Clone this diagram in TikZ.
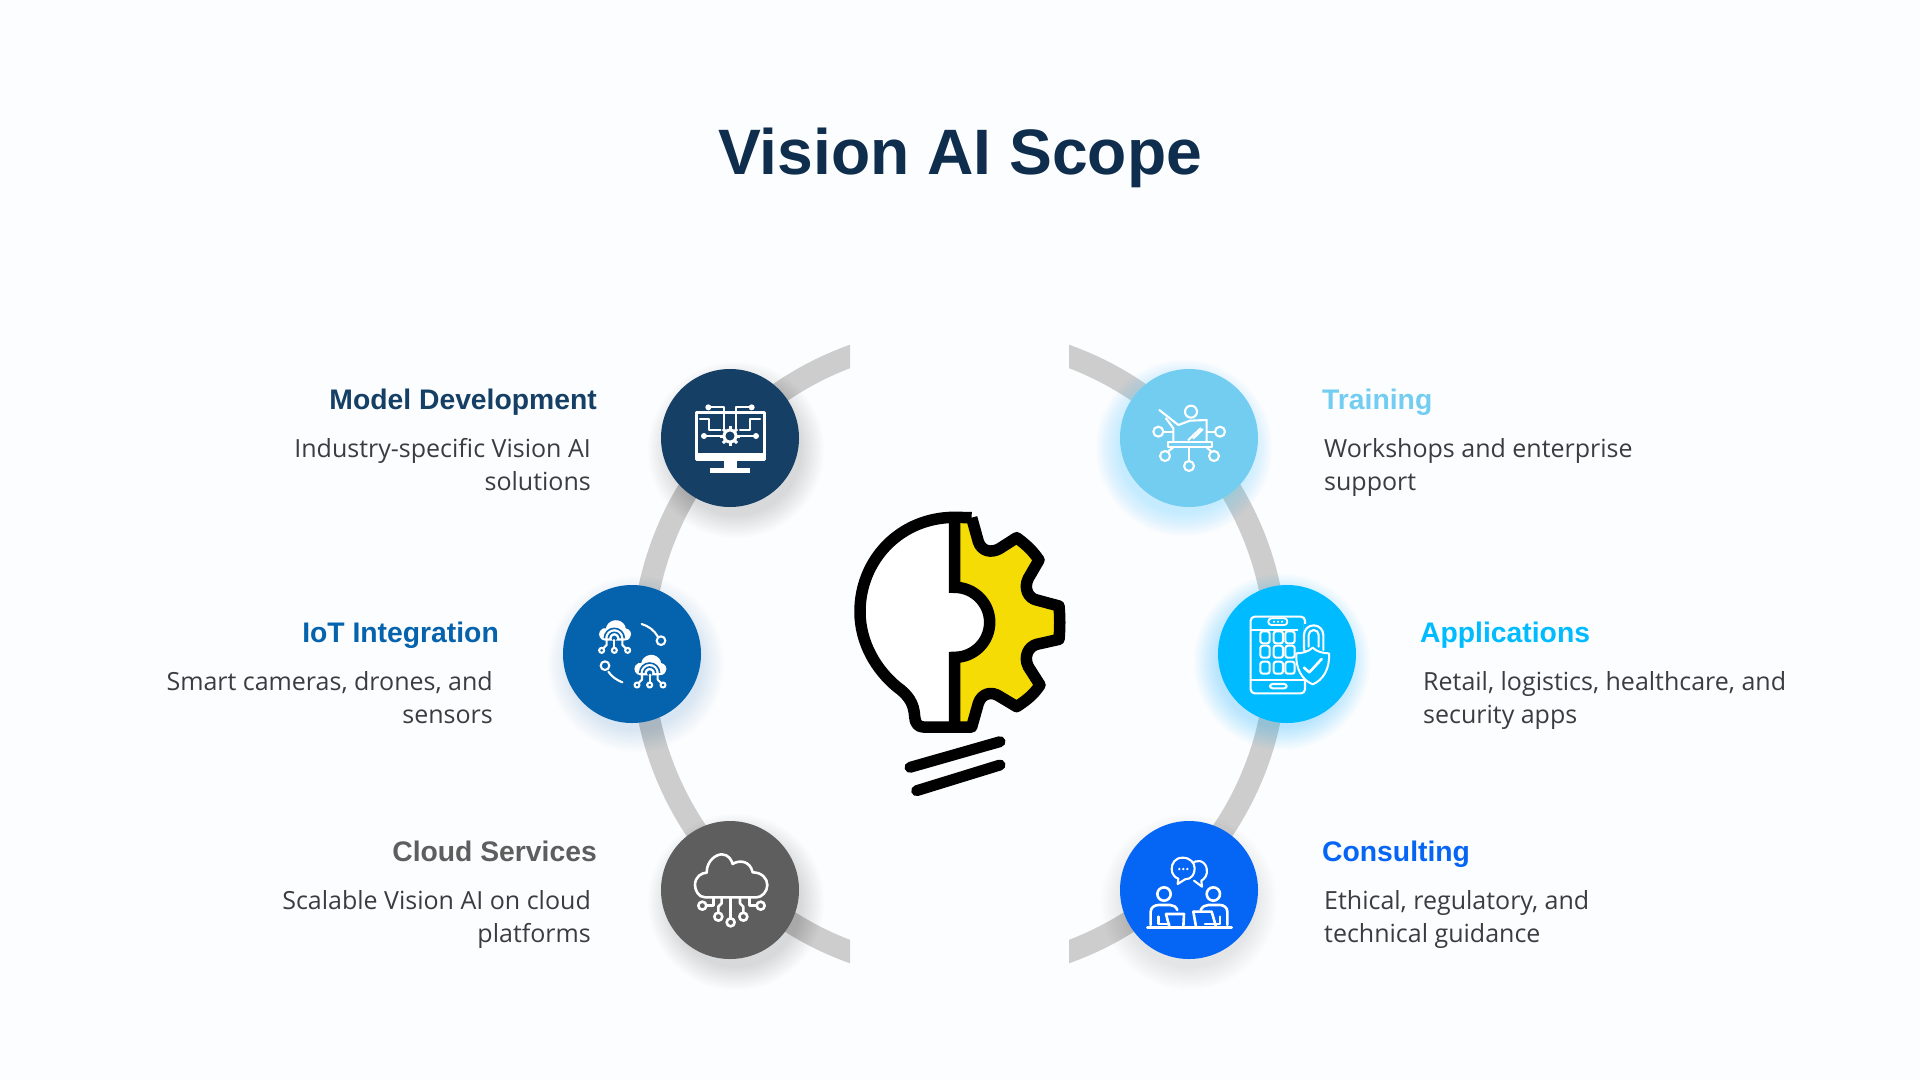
\documentclass[tikz,border=0pt]{standalone}
\usepackage{fontspec}
\setmainfont{Open Sans}
\newfontfamily\headfont{Liberation Sans}[Scale=1.0]
\usetikzlibrary{calc}
\definecolor{pagebg}{HTML}{FCFDFE}
\definecolor{titlec}{HTML}{0F2D4D}
\definecolor{ringc}{HTML}{CCCDCC}
\definecolor{bodyc}{HTML}{3A3D40}
\definecolor{modelc}{HTML}{163F65}
\definecolor{trainc}{HTML}{72CDF0}
\definecolor{iotc}{HTML}{0562AC}
\definecolor{appc}{HTML}{00BBFF}
\definecolor{cloudc}{HTML}{5E5E5E}
\definecolor{consc}{HTML}{0565F5}
\definecolor{gearc}{HTML}{F5DC05}
\tikzset{
  hub/.style={circle,minimum size=138pt,inner sep=0pt,draw=none},
  heading/.style={font=\headfont\bfseries\fontsize{28.3}{28}\selectfont,inner sep=0pt},
  bodytext/.style={font=\fontsize{25}{33}\selectfont,text=bodyc,inner sep=0pt},
  ico/.style={draw=white,line width=2.6pt,line cap=round,line join=round},
  icothin/.style={draw=white,line width=2.1pt,line cap=round,line join=round},
}
\newcommand{\softshadow}[4]{%
  \foreach \rr in {66,68,...,88}{\fill[#4,opacity=#3] (#1,#2) circle (\rr pt);}%
}
\begin{document}
\begin{tikzpicture}[x=1pt,y=-1pt]
\useasboundingbox (0,0) rectangle (1920,1080);
\fill[pagebg] (0,0) rectangle (1920,1080);

\node[font=\headfont\bfseries\fontsize{64.2}{64}\selectfont,text=titlec,inner sep=0pt,anchor=base] (title) at (960,174) {Vision AI Scope};

% ring
\begin{scope}
\clip (0,0) rectangle (850,1080) (1069,0) rectangle (1920,1080);
\draw[ringc,line width=22pt] (959.5,654) circle (317pt);
\end{scope}

% shadows
\softshadow{736}{450}{0.011}{black}
\softshadow{1184}{448}{0.022}{appc!80}
\softshadow{636}{664}{0.011}{iotc}
\softshadow{1282}{662}{0.025}{appc}
\softshadow{736}{902}{0.011}{black}
\softshadow{1189}{902}{0.009}{black}

% hubs
\node[hub,fill=modelc] (model) at (730,438) {};
\node[hub,fill=trainc] (train) at (1189,438) {};
\node[hub,fill=iotc] (iot) at (632,654) {};
\node[hub,fill=appc] (app) at (1287,654) {};
\node[hub,fill=cloudc] (cloudn) at (730,890) {};
\node[hub,fill=consc] (cons) at (1189,890) {};

% texts left
\node[heading,text=modelc,anchor=base east] (h1) at (597,409) {Model Development};
\node[bodytext,align=right,anchor=east] (b1) at (591,467.4) {\strut Industry-specific Vision AI\\\strut solutions};
\node[heading,text=iotc,anchor=base east] (h2) at (499,642) {IoT Integration};
\node[bodytext,align=right,anchor=east] (b2) at (493,700) {\strut Smart cameras, drones, and\\\strut sensors};
\node[heading,text=cloudc,anchor=base east] (h3) at (597,861) {Cloud Services};
\node[bodytext,align=right,anchor=east] (b3) at (591,919.2) {\strut Scalable Vision AI on cloud\\\strut platforms};
% texts right
\node[heading,text=trainc,anchor=base west] (h4) at (1322,409) {Training};
\node[bodytext,align=left,anchor=west] (b4) at (1324,467.4) {\strut Workshops and enterprise\\\strut support};
\node[heading,text=appc,anchor=base west] (h5) at (1420,642) {Applications};
\node[bodytext,align=left,anchor=west] (b5) at (1423,700) {\strut Retail, logistics, healthcare, and\\\strut security apps};
\node[heading,text=consc,anchor=base west] (h6) at (1322,861) {Consulting};
\node[bodytext,align=left,anchor=west] (b6) at (1324,919.2) {\strut Ethical, regulatory, and\\\strut technical guidance};

% central bulb
\begin{scope}[shift={(840,500)},scale=1/3]
\fill[gearc] (344,52) -- (395,53) -- (415,125) .. controls (425,155) and (455,160) .. (480,145) -- (530,113) .. controls (560,135) and (580,155) .. (597,180) -- (565,235) .. controls (550,265) and (565,295) .. (590,300) -- (657,318) .. controls (660,350) and (660,385) .. (657,418) -- (590,433) .. controls (565,440) and (550,470) .. (565,500) -- (600,555) .. controls (580,585) and (560,600) .. (530,620) -- (480,590) .. controls (455,572) and (425,580) .. (415,610) -- (395,681) -- (344,681) -- (344,472) .. controls (402,472) and (449,425) .. (449,367) .. controls (449,309) and (402,262) .. (344,262) -- cycle;
\fill[white] (344,52) .. controls (180,52) and (60,180) .. (60,335) .. controls (60,430) and (110,510) .. (170,560) .. controls (205,585) and (222,610) .. (224,650) .. controls (225,670) and (235,681) .. (250,681) -- (344,681) -- (344,472) .. controls (402,472) and (449,425) .. (449,367) .. controls (449,309) and (402,262) .. (344,262) -- cycle;
\draw[black,line width=11.5pt,line join=round] (395,53) -- (344,52) .. controls (180,52) and (60,180) .. (60,335) .. controls (60,430) and (110,510) .. (170,560) .. controls (205,585) and (222,610) .. (224,650) .. controls (225,670) and (235,681) .. (250,681) -- (395,681) -- (415,610) .. controls (425,580) and (455,572) .. (480,590) -- (530,620) .. controls (560,600) and (580,585) .. (600,555) -- (565,500) .. controls (550,470) and (565,440) .. (590,433) -- (657,418) .. controls (660,385) and (660,350) .. (657,318) -- (590,300) .. controls (565,295) and (550,265) .. (565,235) -- (597,180) .. controls (580,155) and (560,135) .. (530,113) -- (480,145) .. controls (455,160) and (425,155) .. (415,125) -- (395,53);
\draw[black,line width=11.5pt,line join=miter] (344,52) -- (344,262) .. controls (402,262) and (449,309) .. (449,367) .. controls (449,425) and (402,472) .. (344,472) -- (344,681);
\draw[black,line width=11pt,line cap=round] (210,802) -- (480,725);
\draw[black,line width=11pt,line cap=round] (230,872) -- (480,795);
\end{scope}

% model icon
\begin{scope}[shift={(650,360)},scale=1/3]
\draw[ico] (140,158) rectangle (344,298);
\fill[white] (138,280) rectangle (346,300);
\fill[white] (222,298) rectangle (262,326);
\fill[white] (180,325) rectangle (300,338);
\draw[icothin] (175,142) -- (222,142) -- (222,205);
\draw[icothin] (305,142) -- (258,142) -- (258,205);
\draw[icothin] (150,178) -- (178,178) -- (178,210) -- (212,210);
\draw[icothin] (330,178) -- (300,178) -- (300,210) -- (270,210);
\draw[icothin] (162,228) -- (212,228);
\draw[icothin] (268,228) -- (318,228);
\fill[white] (175,142) circle (9) (305,142) circle (9) (162,228) circle (9) (318,228) circle (9);
\foreach \a in {0,45,...,315}{\draw[white,line width=3pt] ($(240,228)+(\a:17)$) -- ($(240,228)+(\a:30)$);}
\draw[white,line width=3pt,fill=modelc] (240,228) circle (18);
\end{scope}

% training icon
\begin{scope}[shift={(1110,360)},scale=1/3]
\draw[icothin] (243,155) circle (18);
\draw[icothin] (148,150) -- (205,195) -- (240,182) -- (290,180) -- (290,245);
\draw[icothin] (168,175) -- (190,205) -- (190,245);
\draw[icothin] (235,240) -- (272,205);
\draw[icothin] (250,235) -- (278,208);
\draw[icothin] (175,245) rectangle (305,262);
\draw[icothin] (160,215) -- (190,215);
\draw[icothin] (290,215) -- (315,215);
\draw[icothin] (190,262) -- (172,276);
\draw[icothin] (290,262) -- (305,276);
\draw[icothin] (237,262) -- (237,303);
\draw[icothin] (145,215) circle (15) (330,215) circle (15) (165,288) circle (15) (312,288) circle (15) (237,318) circle (15);
\end{scope}

% IoT icon
\begin{scope}[shift={(555,575)},scale=1/3]
\foreach \dx/\dy in {0/0,106/104}{
\begin{scope}[shift={(\dx,\dy)}]
\fill[white] (150,197) .. controls (135,195) and (128,180) .. (135,168) .. controls (140,160) and (148,158) .. (153,160) .. controls (155,140) and (185,125) .. (205,145) .. controls (210,150) and (212,155) .. (212,160) .. controls (225,162) and (232,175) .. (226,185) .. controls (222,195) and (215,197) .. (205,197) -- cycle;
\draw[iotc,line width=1.6pt] (148,190) arc[start angle=180,end angle=360,radius=30];
\draw[iotc,line width=1.6pt] (160,190) arc[start angle=180,end angle=360,radius=18];
\fill[iotc] (178,190) circle (8);
\draw[icothin] (178,195) -- (178,218);
\draw[icothin] (155,195) -- (155,210) -- (145,220);
\draw[icothin] (202,195) -- (202,210) -- (212,220);
\draw[icothin] (140,226) circle (7.5) (178,226) circle (7.5) (218,226) circle (7.5);
\end{scope}}
\draw[icothin] (260,147) .. controls (280,153) and (297,165) .. (308,184);
\draw[icothin] (318,197) circle (13);
\draw[icothin] (150,272) circle (13);
\draw[icothin] (160,290) .. controls (170,305) and (185,315) .. (202,322);
\end{scope}

% Applications icon
\begin{scope}[shift={(1210,575)},scale=1/3]
\draw[icothin,rounded corners=4pt] (122,125) rectangle (285,355);
\draw[icothin] (122,165) -- (262,165);
\draw[icothin] (122,315) -- (285,315);
\draw[draw=white,line width=1.8pt,fill=appc,rounded corners=3pt] (175,130) rectangle (232,150);
\fill[white] (192,140) circle (3.5) (204,140) circle (3.5) (216,140) circle (3.5);
\draw[icothin,rounded corners=2.5pt] (180,327) rectangle (230,340);
\foreach \cx in {165,205,240}{\foreach \cy in {187,230,278}{
\draw[icothin,rounded corners=2.5pt] (\cx-14,\cy-18) rectangle (\cx+14,\cy+18);}}
\fill[appc] (282,148) rectangle (345,225);
\draw[icothin] (282,225) -- (282,180) arc[start angle=180,end angle=360,radius=29] -- (340,225);
\draw[icothin] (296,215) -- (296,180) arc[start angle=180,end angle=360,radius=15] -- (326,215);
\draw[draw=white,line width=2pt,fill=appc,line join=round] (308,218) .. controls (320,230) and (340,235) .. (357,235) .. controls (360,280) and (340,315) .. (308,328) .. controls (276,315) and (256,280) .. (259,235) .. controls (276,235) and (296,230) .. (308,218) -- cycle;
\draw[ico] (282,278) -- (298,292) -- (335,252);
\end{scope}

% Cloud services icon
\begin{scope}[shift={(650,810)},scale=1/3]
\draw[ico] (165,262) .. controls (145,262) and (135,240) .. (135,225) .. controls (135,200) and (155,188) .. (170,188) .. controls (170,150) and (200,133) .. (215,133) .. controls (235,133) and (245,150) .. (248,162) .. controls (265,150) and (300,150) .. (308,187) .. controls (335,187) and (352,205) .. (352,225) .. controls (352,245) and (335,262) .. (320,262) -- cycle;
\draw[ico] (169,287) -- (190,287) -- (190,265);
\draw[ico] (205,308) -- (205,290) -- (215,280) -- (215,265);
\draw[ico] (242,324) -- (242,265);
\draw[ico] (280,308) -- (280,290) -- (270,280) -- (270,265);
\draw[ico] (320,287) -- (298,287) -- (298,265);
\draw[ico] (157,287) circle (12) (205,320) circle (12) (242,337) circle (12) (280,320) circle (12) (332,287) circle (12);
\end{scope}

% Consulting icon
\begin{scope}[shift={(1110,810)},scale=1/3]
\draw[icothin] (245,165) .. controls (255,145) and (285,150) .. (290,175) .. controls (295,195) and (282,208) .. (274,212) -- (276,230) -- (252,212);
\draw[draw=white,line width=2.1pt,fill=consc,line join=round] (218,143) .. controls (195,143) and (185,160) .. (185,177) .. controls (185,192) and (195,203) .. (205,206) -- (203,222) -- (225,208) .. controls (245,208) and (254,192) .. (254,175) .. controls (254,158) and (240,143) .. (218,143) -- cycle;
\fill[white] (208,177) circle (4) (220,177) circle (4) (232,177) circle (4);
\draw[ico] (162,252) circle (20) (310,252) circle (20);
\draw[ico] (122,345) -- (122,305) .. controls (122,292) and (135,285) .. (145,285) -- (180,285) .. controls (190,285) and (198,290) .. (202,300);
\draw[ico] (352,345) -- (352,305) .. controls (352,292) and (340,285) .. (330,285) -- (295,285) .. controls (285,285) and (277,290) .. (272,300);
\draw[ico] (168,312) -- (222,312) -- (220,350);
\draw[ico] (168,312) -- (178,350);
\draw[ico] (146,320) -- (146,342) -- (178,342);
\draw[ico] (250,305) -- (305,305) -- (318,350);
\draw[ico] (250,305) -- (258,350);
\draw[ico] (330,320) -- (330,342) -- (285,342);
\draw[ico] (112,353) -- (365,353);
\end{scope}
\end{tikzpicture}
\end{document}
